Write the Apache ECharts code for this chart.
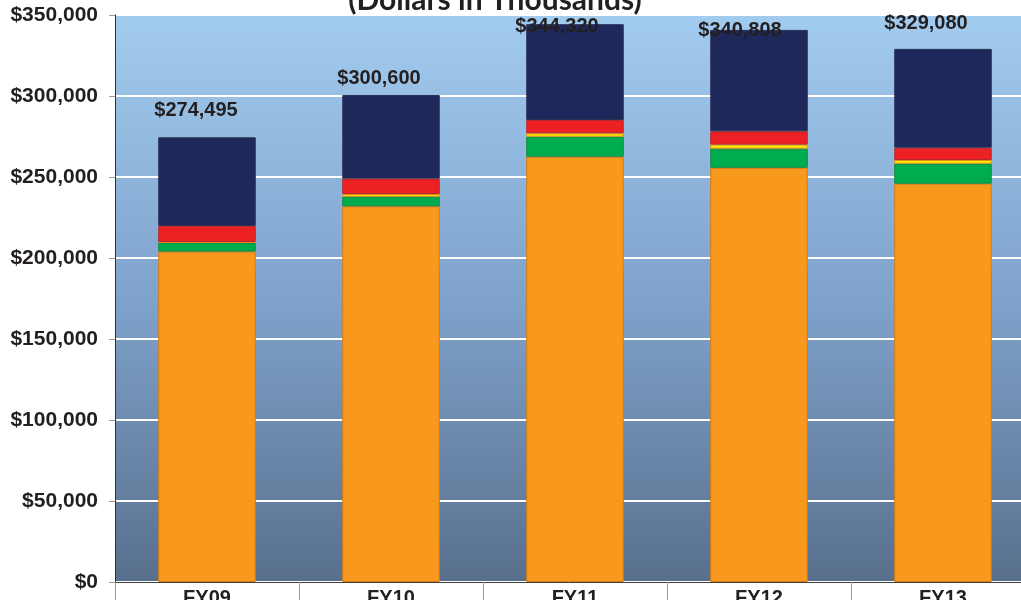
<!DOCTYPE html>
<html>
<head>
<meta charset="utf-8">
<script src="https://cdn.jsdelivr.net/npm/echarts@6/dist/echarts.min.js"></script>
<style>
html,body{margin:0;padding:0;background:#fff;}
#chart{width:1021px;height:600px;}
</style>
</head>
<body>
<div id="chart"></div>
<script>
// ---- data ----
var categories = ['FY09', 'FY10', 'FY11', 'FY12', 'FY13'];
var orangeVals = [204000, 231900, 262500, 255700, 245900];
var greenVals  = [5300, 5900, 12400, 11800, 12300];
var yellowVals = [600, 1700, 2100, 2500, 2300];
var redVals    = [9900, 9500, 8200, 8200, 7600];
var navyVals   = [54695, 51600, 59120, 62608, 60980];
var totals     = [274495, 300600, 344320, 340808, 329080];
var titleText  = '(Dollars in Thousands)';

// ---- styles ----
var labelOffsets = [[-11, -17], [-12, -7], [-18, 12], [-19, 11], [-17, -15]];

var chart = echarts.init(document.getElementById('chart'), null, {renderer: 'canvas'});

function fmt(v) { return '$' + Number(v).toLocaleString('en-US'); }

function mkSeries(name, vals, color, border) {
  return {
    name: name, type: 'bar', stack: 'total', barWidth: '53%',
    itemStyle: {color: color, borderColor: border, borderWidth: 1},
    data: vals.slice(),
    animation: false
  };
}

var navy = mkSeries('navy', navyVals, '#1F285A', '#2a2f55');
navy.data = navyVals.map(function (v, i) {
  return {value: v, label: {offset: labelOffsets[i]}};
});
navy.label = {
  show: true, position: 'top', distance: 0,
  fontFamily: 'Liberation Sans, Arial, sans-serif', fontWeight: 'bold', fontSize: 20,
  lineHeight: 20, color: '#231F20',
  formatter: function (p) { return fmt(totals[p.dataIndex]); }
};

var option = {
  animation: false,
  backgroundColor: '#ffffff',
  graphic: [{
    type: 'text', x: 495, y: 0,
    style: {
      text: titleText, x: 0, y: 0, align: 'center', verticalAlign: 'middle',
      font: 'bold 30px Lato, "Open Sans", sans-serif', fill: '#231F20'
    },
    z: 10
  }],
  grid: {
    left: 115, top: 15, width: 920, height: 567,
    outerBoundsMode: 'none', containLabel: false,
    show: true, borderWidth: 0,
    backgroundColor: new echarts.graphic.LinearGradient(0, 0, 0, 1, [
      {offset: 0, color: '#A2CCEF'},
      {offset: 0.5, color: '#7FA2CB'},
      {offset: 1, color: '#58708D'}
    ])
  },
  xAxis: {
    type: 'category', data: categories,
    axisLine: {lineStyle: {color: '#404040', width: 1}},
    axisTick: {show: true, length: 40, lineStyle: {color: '#999999'}, alignWithLabel: false, interval: 0},
    axisLabel: {
      margin: 6, color: '#231F20', fontWeight: 'bold', fontSize: 20,
      fontFamily: 'Liberation Sans, Arial, sans-serif'
    }
  },
  yAxis: {
    type: 'value', min: 0, max: 350000, interval: 50000,
    axisLine: {show: true, lineStyle: {color: '#303030', width: 1}},
    axisTick: {show: true, length: 6, lineStyle: {color: '#999999'}},
    splitLine: {show: true, lineStyle: {color: '#ffffff', width: 2}},
    axisLabel: {
      margin: 17, color: '#231F20', fontWeight: 'bold', fontSize: 21,
      fontFamily: 'Liberation Sans, Arial, sans-serif',
      formatter: function (v) { return fmt(v); }
    }
  },
  series: [
    mkSeries('orange', orangeVals, '#F8981D', '#D87A14'),
    mkSeries('green', greenVals, '#00AD4E', '#118A3C'),
    mkSeries('yellow', yellowVals, '#FFF200', '#E08A1A'),
    mkSeries('red', redVals, '#ED2024', '#B8282A'),
    navy
  ]
};
chart.setOption(option);
</script>
</body>
</html>
